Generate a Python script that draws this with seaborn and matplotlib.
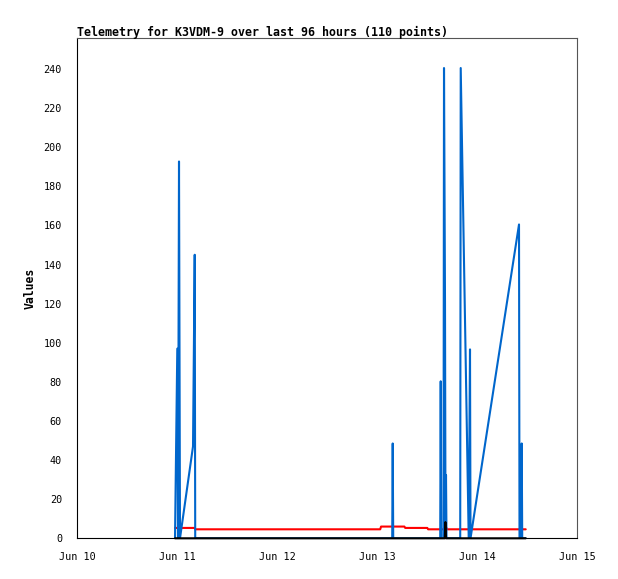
import matplotlib
matplotlib.use("Agg")
import matplotlib.pyplot as plt
import matplotlib.dates as mdates
import seaborn as sns
import pandas as pd

# Time axis starts at Jun 10 00:00, values are hours after that
start = pd.Timestamp("2023-06-10")
title = "Telemetry for K3VDM-9 over last 96 hours (110 points)"

# Blue channel (spiky one)
blue_hours = [23.45, 24.0, 24.17, 24.41, 24.65, 27.77, 28.18, 28.30,
              75.58, 75.70, 75.82,
              87.10, 87.22, 87.34, 87.89, 88.01, 88.25, 88.37, 88.49, 88.61,
              91.90, 92.02, 93.94, 94.25, 94.37,
              106.01, 106.13, 106.54, 106.66, 106.78, 107.62]
blue_values = [0, 97, 0, 192.7, 0, 47, 145, 0,
               0, 48.5, 0,
               0, 80.3, 0, 0, 240.5, 120, 0, 32.3, 0,
               0, 240.5, 0, 96.6, 0,
               160.5, 0, 0, 48.5, 0, 0]

# Red channel (about 5)
red_hours = [23.45, 28.2, 28.3, 72.7, 72.9, 78.5, 78.7, 84.0, 84.2,
             88.0, 88.1, 88.6, 88.7, 107.62]
red_values = [5.3, 5.3, 4.6, 4.6, 6.0, 6.0, 5.3, 5.3, 4.6,
              4.6, 5.3, 5.3, 4.6, 4.6]

# Black channel (zero with one small blip)
black_hours = [23.45, 88.2, 88.35, 88.5, 107.62]
black_values = [0, 0, 8.3, 0, 0]


def to_frame(hours, values):
    return pd.DataFrame({"time": start + pd.to_timedelta(hours, unit="h"),
                         "value": values})


sns.set_style("white")
plt.rcParams['font.family'] = ['DejaVu Sans Mono']
plt.rcParams['text.color'] = 'black'
plt.rcParams['axes.labelcolor'] = 'black'

fig = plt.figure(figsize=(6.18, 5.79), dpi=100)
ax = fig.add_axes([77.3 / 618, 1 - 538.3 / 579, 500 / 618, 500 / 579])

sns.lineplot(data=to_frame(red_hours, red_values), x="time", y="value",
             color="#ff0000", linewidth=1.5, sort=False, ax=ax)
sns.lineplot(data=to_frame(blue_hours, blue_values), x="time", y="value",
             color="#0066cc", linewidth=1.5, sort=False, ax=ax)
sns.lineplot(data=to_frame(black_hours, black_values), x="time", y="value",
             color="#000000", linewidth=1.5, sort=False, ax=ax, clip_on=False)

ax.set_xlim(start, start + pd.Timedelta(days=5))
ax.set_ylim(0, 255.7)
ax.set_yticks(range(0, 241, 20))
ax.xaxis.set_major_locator(mdates.DayLocator())
ax.xaxis.set_major_formatter(mdates.DateFormatter("%b %d"))

ax.set_xlabel("")
ax.set_ylabel("Values", fontsize=8.3, fontweight="bold", labelpad=5, color="black")
ax.set_title(title, loc="left", fontsize=8.35, fontweight="bold", pad=2, color="black")

ax.tick_params(axis="both", direction="out", length=5, width=0.8,
               labelsize=7.3, colors="black")
ax.tick_params(axis="y", pad=6)
ax.tick_params(axis="x", pad=5)

for side in ["left", "bottom"]:
    ax.spines[side].set_color("black")
    ax.spines[side].set_linewidth(0.8)
for side in ["top", "right"]:
    ax.spines[side].set_color("#555555")
    ax.spines[side].set_linewidth(0.8)

fig.savefig("out.png", dpi=100)
